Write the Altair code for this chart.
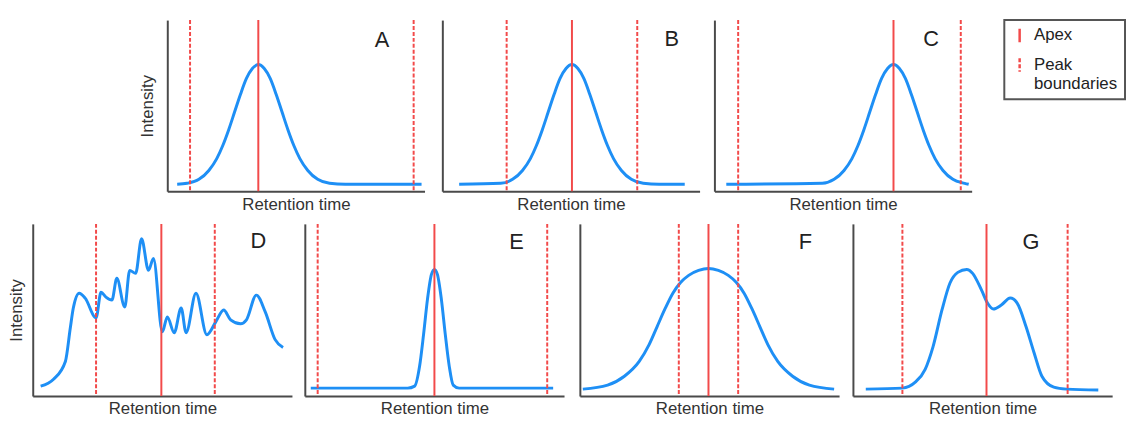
import altair as alt
import pandas as pd

# ---------------- data ----------------
# x = retention time (arbitrary units), y = intensity (arbitrary units)
A_x = [10, 20, 32, 42, 50, 56, 62, 68, 74, 80, 86, 92, 98, 104, 110, 116, 122, 128, 134, 142, 152, 164, 180, 257]
A_y = [7, 8, 12, 21, 33, 46, 62, 80, 98, 114, 124, 128, 124, 114, 98, 80, 62, 46, 33, 21, 12, 8, 7, 7]

B_x = [17, 59, 71, 81, 89, 95, 101, 107, 113, 119, 125, 131, 137, 143, 149, 155, 161, 167, 173, 181, 191, 203, 219, 245]
B_y = [7, 8, 12, 21, 33, 46, 62, 80, 98, 114, 124, 128, 124, 114, 98, 80, 62, 46, 33, 21, 12, 8, 7, 7]

C_x = [12, 109, 121, 131, 139, 145, 151, 157, 163, 169, 175, 181, 187, 193, 199, 205, 211, 217, 223, 231, 241, 253, 257]
C_y = [7, 8, 12, 21, 33, 46, 62, 80, 98, 114, 124, 128, 124, 114, 98, 80, 62, 46, 33, 21, 12, 8, 7]

D_x = [8, 21, 33, 38, 41, 47, 53, 64, 69, 74, 80, 85, 93, 98, 104, 110, 117, 122, 131, 136, 143,
       150, 155, 165, 176, 185, 193, 200, 210, 216, 226, 235, 245, 253]
D_y = [10, 17, 35, 69, 89, 104, 99, 79, 105, 100, 97, 119, 90, 127, 124, 159, 127, 139, 65, 80, 64,
       89, 64, 104, 62, 75, 87, 77, 73, 77, 102, 85, 57, 49]

E_x = [6, 104, 111, 116, 120, 124, 128, 131, 134, 138, 142, 146, 150, 156, 251]
E_y = [8, 8, 10, 30, 62, 98, 123, 128, 123, 98, 62, 30, 11, 8, 8]

F_x = [3, 28, 45, 60, 70, 78, 86, 94, 102, 110, 120, 130, 140, 150, 158, 166, 174, 182, 190, 200, 215, 232, 257]
F_y = [7, 11, 20, 35, 52, 70, 88, 104, 115, 122, 127, 129, 127, 122, 115, 104, 88, 70, 52, 35, 20, 11, 7]

G_x = [13, 50, 63, 73, 81, 90, 98, 106, 115, 121, 130, 136, 142, 150, 159, 166, 175, 183, 191, 203, 216, 248]
G_y = [7, 8, 14, 27, 50, 87, 114, 125, 128, 124, 107, 94, 88, 92, 99, 94, 70, 44, 20, 9, 7, 6]

# apex and peak boundaries (retention time)
apex = {"A": 92, "B": 131, "C": 181, "D": 130, "E": 131, "F": 130, "G": 135}
bounds = {"A": [23, 249], "B": [65, 197], "C": [24, 249], "D": [64, 184],
          "E": [13, 245], "F": [100, 160], "G": [50, 217]}

kinds = ["Apex", "Peak boundaries"]
panel_letters = ["A", "B", "C", "D", "E", "F", "G"]
x_title = "Retention time"
y_title = "Intensity"

# ---------------- styling ----------------
BLUE = "#1E8FF5"
RED = "#F24A4A"
FONT = "Liberation Sans"

# letter label anchor (in each panel's data units)
letter_at = {"A": (217, 153), "B": (232, 154), "C": (219, 154), "D": (228, 157),
             "E": (214, 156), "F": (228, 156), "G": (180, 156)}

curves = {"A": (A_x, A_y), "B": (B_x, B_y), "C": (C_x, C_y), "D": (D_x, D_y),
          "E": (E_x, E_y), "F": (F_x, F_y), "G": (G_x, G_y)}

legend_top = alt.Legend(
    title=None, orient="right", offset=30, padding=7,
    strokeColor="#555555", cornerRadius=0,
    symbolType="M0,-1.7L0,1.7", symbolSize=64, symbolStrokeWidth=2.5,
    symbolStrokeColor=RED, symbolFillColor="transparent",
    labelFont=FONT, labelFontSize=17, labelColor="#222222", labelOffset=6,
    labelLimit=300, rowPadding=5,
    labelExpr="datum.label == 'Peak boundaries' ? ['Peak', 'boundaries'] : datum.label",
)


def panel(key, width, height, show_ytitle, ypad, legend):
    cx, cy = curves[key]
    xs = alt.Scale(domain=[0, width], nice=False, zero=False)
    ys = alt.Scale(domain=[0, height], nice=False, zero=False)
    xaxis = alt.Axis(title=x_title, titlePadding=5)
    if show_ytitle:
        yaxis = alt.Axis(title=y_title, titlePadding=ypad)
    else:
        yaxis = alt.Axis(title=None)
    line = alt.Chart(pd.DataFrame({"t": cx, "i": cy})).mark_line(
        color=BLUE, strokeWidth=3, interpolate="monotone"
    ).encode(
        x=alt.X("t:Q", scale=xs, axis=xaxis),
        y=alt.Y("i:Q", scale=ys, axis=yaxis),
    )
    rdf = pd.DataFrame({"t": [apex[key]] + bounds[key],
                        "kind": [kinds[0], kinds[1], kinds[1]]})
    rules = alt.Chart(rdf).mark_rule(color=RED, strokeWidth=2).encode(
        x=alt.X("t:Q", scale=xs),
        strokeDash=alt.StrokeDash(
            "kind:N",
            scale=alt.Scale(domain=kinds, range=[[1, 0], [4, 2]]),
            legend=legend,
        ),
    )
    lx, ly = letter_at[key]
    letter = alt.Chart(pd.DataFrame({"t": [lx], "i": [ly], "lab": [key]})).mark_text(
        font=FONT, fontSize=22, color="#222222"
    ).encode(x=alt.X("t:Q", scale=xs), y=alt.Y("i:Q", scale=ys), text="lab:N")
    return alt.layer(line, rules, letter).properties(width=width, height=height)


spacer = alt.Chart(pd.DataFrame({"t": [0]})).mark_point(opacity=0).encode(
    x=alt.X("t:Q", axis=None), y=alt.Y("t:Q", axis=None)
).properties(width=92, height=173)

top = alt.hconcat(
    spacer,
    panel("A", 260, 173, True, 11, legend_top),
    panel("B", 260, 173, False, 0, legend_top),
    panel("C", 260, 173, False, 0, legend_top),
    spacing=15,
)

bottom = alt.hconcat(
    panel("D", 262, 174, True, 7, None),
    panel("E", 262, 174, False, 0, None),
    panel("F", 262, 174, False, 0, None),
    panel("G", 262, 174, False, 0, None),
    spacing=13,
)

chart = alt.vconcat(top, bottom, spacing=11).resolve_scale(
    strokeDash="independent"
).resolve_legend(strokeDash="independent").properties(
    padding={"left": 0, "top": 9, "right": 0, "bottom": 0}
).configure_view(stroke=None).configure_axis(
    domainColor="#4a4a4a", domainWidth=2, ticks=False, labels=False, grid=False,
    titleFont=FONT, titleFontSize=17, titleFontWeight="normal", titleColor="#333333",
).configure_legend(strokeWidth=2)

chart.save("out.html", embed_options={"renderer": "svg", "actions": False})
